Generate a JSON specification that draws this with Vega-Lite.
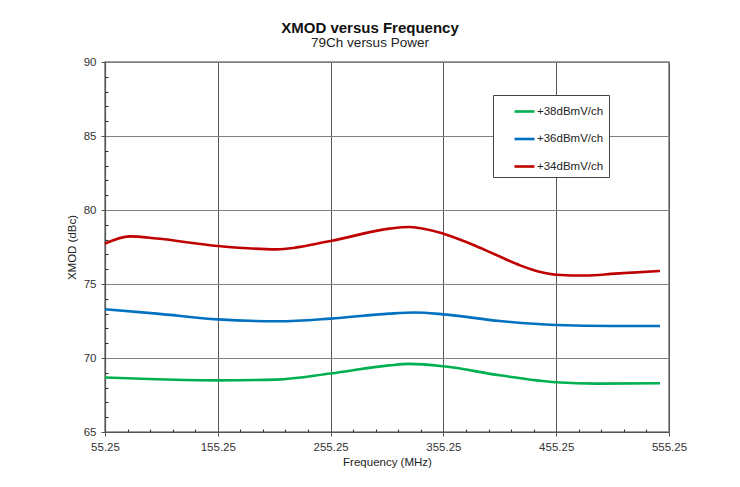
{
  "$schema": "https://vega.github.io/schema/vega-lite/v6.json",
  "width": 564,
  "height": 370,
  "autosize": {"type": "none"},
  "padding": {"left": 105, "top": 62, "right": 71, "bottom": 55},
  "background": "white",
  "title": {
    "text": "XMOD versus Frequency",
    "subtitle": "79Ch versus Power",
    "anchor": "middle",
    "dx": -17,
    "offset": 7,
    "font": "Liberation Sans",
    "fontSize": 15,
    "fontWeight": "bold",
    "color": "#111",
    "subtitleFont": "Liberation Sans",
    "subtitleFontSize": 13.5,
    "subtitleColor": "#222",
    "subtitlePadding": 0
  },
  "data": {
    "values": [
      {"series": "+38dBmV/ch", "freq": 55.25, "xmod": 68.68},
      {"series": "+38dBmV/ch", "freq": 101.25, "xmod": 68.56},
      {"series": "+38dBmV/ch", "freq": 155.25, "xmod": 68.49},
      {"series": "+38dBmV/ch", "freq": 207.25, "xmod": 68.54},
      {"series": "+38dBmV/ch", "freq": 255.25, "xmod": 68.95},
      {"series": "+38dBmV/ch", "freq": 307.25, "xmod": 69.5},
      {"series": "+38dBmV/ch", "freq": 325.25, "xmod": 69.6},
      {"series": "+38dBmV/ch", "freq": 355.25, "xmod": 69.44},
      {"series": "+38dBmV/ch", "freq": 405.25, "xmod": 68.83},
      {"series": "+38dBmV/ch", "freq": 455.25, "xmod": 68.36},
      {"series": "+38dBmV/ch", "freq": 491.25, "xmod": 68.27},
      {"series": "+38dBmV/ch", "freq": 547.25, "xmod": 68.29},
      {"series": "+36dBmV/ch", "freq": 55.25, "xmod": 73.29},
      {"series": "+36dBmV/ch", "freq": 101.25, "xmod": 73.0},
      {"series": "+36dBmV/ch", "freq": 155.25, "xmod": 72.61},
      {"series": "+36dBmV/ch", "freq": 209.25, "xmod": 72.48},
      {"series": "+36dBmV/ch", "freq": 255.25, "xmod": 72.66},
      {"series": "+36dBmV/ch", "freq": 307.25, "xmod": 73.0},
      {"series": "+36dBmV/ch", "freq": 329.25, "xmod": 73.07},
      {"series": "+36dBmV/ch", "freq": 355.25, "xmod": 72.95},
      {"series": "+36dBmV/ch", "freq": 405.25, "xmod": 72.5},
      {"series": "+36dBmV/ch", "freq": 455.25, "xmod": 72.23},
      {"series": "+36dBmV/ch", "freq": 505.25, "xmod": 72.16},
      {"series": "+36dBmV/ch", "freq": 547.25, "xmod": 72.16},
      {"series": "+34dBmV/ch", "freq": 55.25, "xmod": 77.73},
      {"series": "+34dBmV/ch", "freq": 77.25, "xmod": 78.22},
      {"series": "+34dBmV/ch", "freq": 101.25, "xmod": 78.07},
      {"series": "+34dBmV/ch", "freq": 155.25, "xmod": 77.57},
      {"series": "+34dBmV/ch", "freq": 207.25, "xmod": 77.34},
      {"series": "+34dBmV/ch", "freq": 255.25, "xmod": 77.9},
      {"series": "+34dBmV/ch", "freq": 307.25, "xmod": 78.74},
      {"series": "+34dBmV/ch", "freq": 325.25, "xmod": 78.85},
      {"series": "+34dBmV/ch", "freq": 355.25, "xmod": 78.4},
      {"series": "+34dBmV/ch", "freq": 379.25, "xmod": 77.72},
      {"series": "+34dBmV/ch", "freq": 401.25, "xmod": 76.99},
      {"series": "+34dBmV/ch", "freq": 423.25, "xmod": 76.26},
      {"series": "+34dBmV/ch", "freq": 441.25, "xmod": 75.81},
      {"series": "+34dBmV/ch", "freq": 455.25, "xmod": 75.63},
      {"series": "+34dBmV/ch", "freq": 481.25, "xmod": 75.57},
      {"series": "+34dBmV/ch", "freq": 507.25, "xmod": 75.7},
      {"series": "+34dBmV/ch", "freq": 547.25, "xmod": 75.88}
    ]
  },
  "layer": [
    {
      "mark": {"type": "line", "strokeOpacity": 0},
      "encoding": {
        "x": {
          "field": "freq", "type": "quantitative",
          "scale": {"domain": [55.25, 555.25], "nice": false, "zero": false},
          "axis": {
            "orient": "bottom",
            "offset": -3,
            "values": [75.25, 95.25, 115.25, 135.25, 175.25, 195.25, 215.25, 235.25, 275.25, 295.25, 315.25, 335.25, 375.25, 395.25, 415.25, 435.25, 475.25, 495.25, 515.25, 535.25],
            "labels": false, "grid": false, "domain": false, "title": "",
            "ticks": true, "tickSize": 3, "tickColor": "#333", "tickWidth": 1.1, "zindex": 1
          }
        },
        "y": {
          "field": "xmod", "type": "quantitative",
          "scale": {"domain": [65, 90], "nice": false, "zero": false},
          "axis": {
            "orient": "left",
            "offset": -3,
            "values": [66, 67, 68, 69, 71, 72, 73, 74, 76, 77, 78, 79, 81, 82, 83, 84, 86, 87, 88, 89],
            "labels": false, "grid": false, "domain": false, "title": "",
            "ticks": true, "tickSize": 3, "tickColor": "#333", "tickWidth": 1.1, "zindex": 1
          }
        },
        "detail": {"field": "series"}
      }
    },
    {
      "mark": {"type": "line", "interpolate": "monotone", "strokeWidth": 2.6},
      "encoding": {
        "x": {
          "field": "freq", "type": "quantitative",
          "scale": {"domain": [55.25, 555.25], "nice": false, "zero": false},
          "axis": {
            "orient": "bottom",
            "values": [55.25, 155.25, 255.25, 355.25, 455.25, 555.25],
            "format": ".2f",
            "title": "Frequency (MHz)",
            "labelFlush": false,
            "labelOverlap": false,
            "grid": true, "gridColor": "#555", "gridWidth": 1,
            "domainColor": "#555", "domainWidth": 1.2,
            "tickColor": "#555", "tickSize": 4,
            "labelPadding": 5, "titlePadding": 4,
            "labelFont": "Liberation Sans", "labelFontSize": 11.5, "labelColor": "#333",
            "titleFont": "Liberation Sans", "titleFontSize": 11.5, "titleFontWeight": "normal", "titleColor": "#222"
          }
        },
        "y": {
          "field": "xmod", "type": "quantitative",
          "scale": {"domain": [65, 90], "nice": false, "zero": false},
          "axis": {
            "orient": "left",
            "values": [65, 70, 75, 80, 85, 90],
            "title": "XMOD (dBc)",
            "labelFlush": false,
            "labelOverlap": false,
            "grid": true, "gridColor": "#808080", "gridWidth": 1.2,
            "domainColor": "#555", "domainWidth": 1.2,
            "tickColor": "#555", "tickSize": 4,
            "labelPadding": 5, "titlePadding": 6,
            "labelFont": "Liberation Sans", "labelFontSize": 11.5, "labelColor": "#333",
            "titleFont": "Liberation Sans", "titleFontSize": 11.5, "titleFontWeight": "normal", "titleColor": "#222"
          }
        },
        "color": {
          "field": "series", "type": "nominal",
          "scale": {"domain": ["+38dBmV/ch", "+36dBmV/ch", "+34dBmV/ch"], "range": ["#00b050", "#0070c0", "#c00000"]},
          "legend": {
            "title": null,
            "orient": "none",
            "legendX": 388,
            "legendY": 33,
            "padding": 5,
            "strokeColor": "#444",
            "fillColor": "white",
            "symbolType": "stroke",
            "symbolSize": 400,
            "symbolStrokeWidth": 2.6,
            "symbolOffset": 15,
            "labelOffset": 1,
            "rowPadding": 10.5,
            "labelFont": "Liberation Sans",
            "labelFontSize": 11.5,
            "labelColor": "#222"
          }
        }
      }
    }
  ],
  "resolve": {"axis": {"x": "independent", "y": "independent"}},
  "config": {
    "view": {"stroke": "#808080", "strokeWidth": 1.5, "fill": "white"}
  }
}
